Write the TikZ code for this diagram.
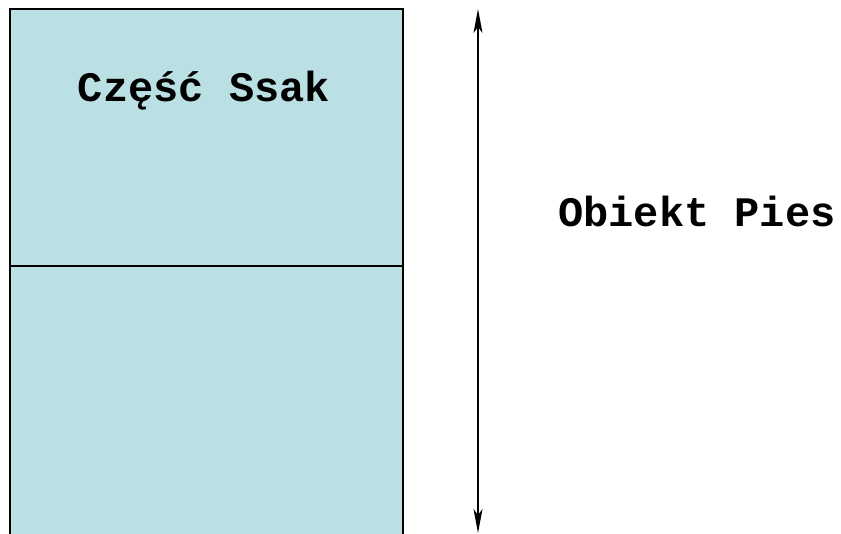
\documentclass[tikz,border=0pt]{standalone}
\usepackage{fontspec}
\setmonofont{Liberation Mono}
\usetikzlibrary{arrows.meta}
\definecolor{cellfill}{RGB}{186,224,227}
\tikzset{
  label text/.style={font=\fontsize{42}{48}\selectfont\ttfamily\bfseries, inner sep=0pt},
  frame/.style={line width=2pt, draw=black},
  span/.style={line width=1.5pt, {Stealth[length=24pt,width=9pt,inset=6pt]}-{Stealth[length=24pt,width=9pt,inset=6pt]}}
}
\begin{document}
\begin{tikzpicture}[x=1pt,y=-1pt]
  \useasboundingbox (0,0) rectangle (841,534);
  % object body, open at the bottom
  \fill[cellfill] (10,9) rectangle (403,540);
  \draw[frame] (10,540) -- (10,9) -- (403,9) -- (403,540);
  \draw[line width=1.5pt] (10,266) -- (403,266);
  % labels
  \node[label text] (part) at (204,91) {Część Ssak};
  \node[label text] (obj) at (697,211) {Obiekt Pies};
  % extent arrow
  \coordinate (top) at (478,9);
  \coordinate (bot) at (478,533);
  \draw[span] (top) -- (bot);
\end{tikzpicture}
\end{document}
